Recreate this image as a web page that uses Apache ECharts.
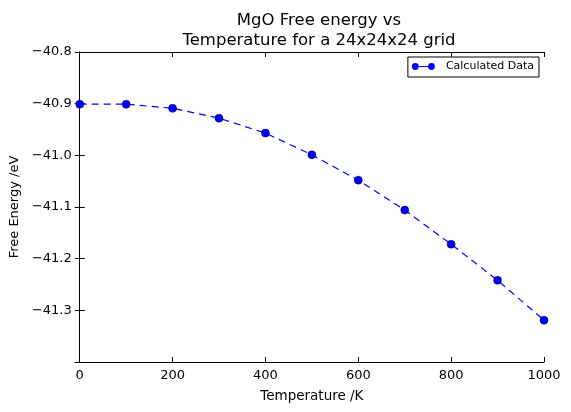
<!DOCTYPE html>
<html>
<head>
<meta charset="utf-8">
<script src="https://cdn.jsdelivr.net/npm/echarts@6/dist/echarts.min.js"></script>
<style>html,body{margin:0;padding:0;background:#fff;font-family:'DejaVu Sans'}#c{width:571px;height:412px}</style>
</head>
<body>
<div id="c"></div>
<script>
const temperatures = [0, 100, 200, 300, 400, 500, 600, 700, 800, 900, 1000];
const freeEnergy = [-40.901, -40.901, -40.909, -40.928, -40.957, -40.999, -41.048, -41.106, -41.172, -41.242, -41.319];
const xTicks = [0, 200, 400, 600, 800, 1000];
const yTickLabels = ['-40.8', '-40.9', '-41.0', '-41.1', '-41.2', '-41.3'];

const font = "'DejaVu Sans', sans-serif";
const chart = echarts.init(document.getElementById('c'));
const fmtY = v => {
  const s = v.toFixed(1);
  return yTickLabels.indexOf(s) >= 0 ? s.replace('-', '\u2212') : '';
};
const baseAxisLine = {show: true, lineStyle: {color: '#000', width: 1}};
const tick = {show: true, inside: true, length: 5, lineStyle: {color: '#000', width: 1}};
chart.setOption({
  animation: false,
  backgroundColor: '#fff',
  textStyle: {fontFamily: font},
  title: {
    text: 'MgO Free energy vs\nTemperature for a 24x24x24 grid',
    left: 314, textAlign: 'center', top: 6,
    textStyle: {fontFamily: font, fontSize: 16.5, fontWeight: 'normal', color: '#000', lineHeight: 20}
  },
  legend: {
    right: 32, top: 57,
    orient: 'vertical',
    borderColor: '#000', borderWidth: 1, borderRadius: 0,
    padding: [4, 5, 5, 4],
    itemWidth: 23, itemHeight: 8, itemGap: 0,
    textStyle: {fontFamily: font, fontSize: 11, color: '#000', padding: [0, 0, 0, 6]},
    itemStyle: {color: '#0000ff', borderWidth: 0},
    data: [{
      name: 'Calculated Data',
      icon: 'path://M0,4A4,4 0 1,1 8,4A4,4 0 1,1 0,4ZM8,3.4L19,3.4L19,4.6L8,4.6ZM19,4A4,4 0 1,1 27,4A4,4 0 1,1 19,4Z'
    }]
  },
  grid: {left: 79, right: 27, top: 52, bottom: 50},
  xAxis: [{
    type: 'value', min: 0, max: 1000, interval: 200,
    name: 'Temperature /K', nameLocation: 'middle', nameGap: 27,
    nameTextStyle: {fontFamily: font, fontSize: 13.5, color: '#000'},
    axisLine: baseAxisLine, axisTick: tick,
    axisLabel: {fontFamily: font, fontSize: 13, color: '#000', margin: 7,
      formatter: v => xTicks.indexOf(v) >= 0 ? String(v) : ''},
    splitLine: {show: false}
  }, {
    type: 'value', min: 0, max: 1000, interval: 200, position: 'top',
    axisLine: baseAxisLine, axisTick: tick, axisLabel: {show: false}, splitLine: {show: false}
  }],
  yAxis: [{
    type: 'value', min: -41.4, max: -40.8, interval: 0.1,
    name: 'Free Energy /eV', nameLocation: 'middle', nameGap: 57, nameRotate: 90,
    nameTextStyle: {fontFamily: font, fontSize: 13, color: '#000'},
    axisLine: baseAxisLine, axisTick: tick,
    axisLabel: {fontFamily: font, fontSize: 13, color: '#000', margin: 8, formatter: fmtY},
    splitLine: {show: false}
  }, {
    type: 'value', min: -41.4, max: -40.8, interval: 0.1, position: 'right',
    axisLine: baseAxisLine, axisTick: tick, axisLabel: {show: false}, splitLine: {show: false}
  }],
  series: [{
    name: 'Calculated Data',
    type: 'line',
    data: temperatures.map((t, i) => [t, freeEnergy[i]]),
    symbol: 'circle', symbolSize: 8,
    clip: false,
    lineStyle: {color: '#0000ff', width: 1.2, type: [7, 5]},
    itemStyle: {color: '#0000ff', borderColor: '#000', borderWidth: 0.5},
    emphasis: {disabled: true}
  }]
});
</script>
</body>
</html>
